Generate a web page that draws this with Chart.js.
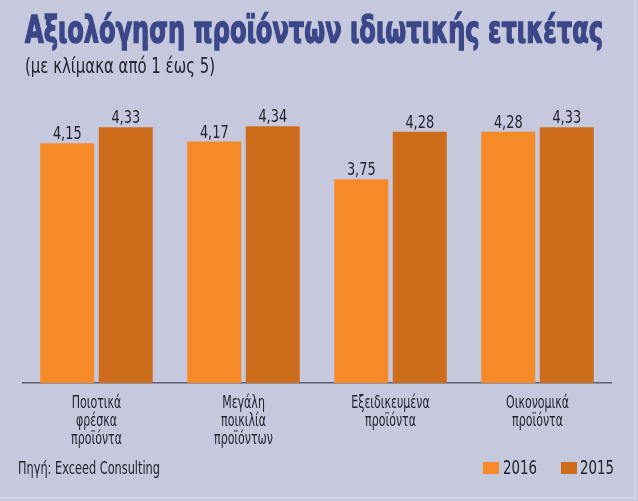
<!DOCTYPE html>
<html>
<head>
<meta charset="utf-8">
<script src="https://cdn.jsdelivr.net/npm/chart.js@4/dist/chart.umd.min.js"></script>
<style>
  html, body { margin: 0; padding: 0; }
  body { width: 638px; height: 501px; background: #c6c9dd; position: relative; overflow: hidden; font-family: "DejaVu Sans Condensed", sans-serif; }
  #frame { position: absolute; left: 0; top: 0; width: 634px; height: 497px; border-right: 2px solid #d4d6e6; border-bottom: 2px solid #d4d6e6; }
  #wrap { position: absolute; left: 0; top: 0; width: 638px; height: 501px; }
  .fit { position: absolute; white-space: nowrap; transform-origin: 0 0; line-height: 1; }
  #title { left: 25px; top: 10px; font-family: "DejaVu Sans Condensed", "DejaVu Sans", sans-serif; font-weight: bold; font-size: 38px; color: #3b4788; -webkit-text-stroke: 1.4px #3b4788; }
  #subtitle { left: 25px; top: 56px; font-size: 21px; color: #24242f; }
  #source { left: 18px; top: 460px; font-size: 17px; color: #24242f; }
  .sw { position: absolute; width: 16px; height: 12px; top: 462px; }
  .leg { top: 458px; font-size: 19.5px; color: #24242f; }
</style>
</head>
<body>
<div id="frame"></div>
<div id="wrap"><canvas id="c" width="638" height="501"></canvas></div>
<span class="fit" id="title" data-w="578">Αξιολόγηση προϊόντων ιδιωτικής ετικέτας</span>
<span class="fit" id="subtitle" data-w="190">(με κλίμακα από 1 έως 5)</span>
<span class="fit" id="source" data-w="142">Πηγή: Exceed Consulting</span>
<div class="sw" style="left:483px;background:#f68a28"></div>
<span class="fit leg" style="left:503px" data-w="34">2016</span>
<div class="sw" style="left:561px;background:#cd6d1c"></div>
<span class="fit leg" style="left:580px" data-w="34">2015</span>
<script>
const categories = [
  ["Ποιοτικά", "φρέσκα", "προϊόντα"],
  ["Μεγάλη", "ποικιλία", "προϊόντων"],
  ["Εξειδικευμένα", "προϊόντα"],
  ["Οικονομικά", "προϊόντα"]
];
const series2016 = [4.15, 4.17, 3.75, 4.28];
const series2015 = [4.33, 4.34, 4.28, 4.33];
const seriesNames = ["2016", "2015"];

document.querySelectorAll('.fit').forEach(el => {
  const target = parseFloat(el.dataset.w);
  const w = el.getBoundingClientRect().width;
  el.style.transform = 'scaleX(' + (target / w) + ')';
});

const FONT = '"DejaVu Sans Condensed", sans-serif';

// Condense the axis tick labels horizontally (narrow face like the reference)
const condenseTicks = {
  id: 'condenseTicks',
  beforeDraw(chart) {
    const ctx = chart.ctx;
    if (!ctx._origRotate) ctx._origRotate = ctx.rotate;
    ctx.rotate = function (a) { ctx._origRotate.call(this, a); this.scale(0.72, 1); };
  },
  beforeDatasetsDraw(chart) {
    const ctx = chart.ctx;
    if (ctx._origRotate) ctx.rotate = ctx._origRotate;
  }
};

const valueLabels = {
  id: 'valueLabels',
  afterDatasetsDraw(chart) {
    const ctx = chart.ctx;
    chart.data.datasets.forEach((ds, i) => {
      chart.getDatasetMeta(i).data.forEach((bar, j) => {
        ctx.save();
        ctx.font = '17.5px ' + FONT;
        ctx.fillStyle = '#24242f';
        ctx.textAlign = 'center';
        ctx.textBaseline = 'alphabetic';
        ctx.translate(bar.x, bar.y - 4);
        ctx.scale(0.82, 1);
        ctx.fillText(ds.data[j].toFixed(2).replace('.', ','), 0, 0);
        ctx.restore();
      });
    });
  }
};

new Chart(document.getElementById('c'), {
  type: 'bar',
  data: {
    labels: categories,
    datasets: [
      { label: seriesNames[0], data: series2016, backgroundColor: '#f68a28' },
      { label: seriesNames[1], data: series2015, backgroundColor: '#cd6d1c' }
    ]
  },
  options: {
    responsive: false,
    animation: false,
    devicePixelRatio: 1,
    layout: { padding: { top: 67, left: 23, right: 27, bottom: 0 } },
    plugins: { legend: { display: false }, tooltip: { enabled: false } },
    datasets: { bar: { categoryPercentage: 0.796, barPercentage: 0.923 } },
    scales: {
      y: { display: false, min: 1.48, max: 5 },
      x: {
        grid: { display: false, drawTicks: false },
        border: { display: true, color: '#5a5e72', width: 1.5 },
        ticks: {
          color: '#24242f',
          padding: 12,
          maxRotation: 0,
          minRotation: 0,
          autoSkip: false,
          font: { family: FONT, size: 17, lineHeight: 1.06 }
        },
        afterFit(scale) { scale.height = 118; }
      }
    }
  },
  plugins: [condenseTicks, valueLabels]
});
</script>
</body>
</html>
